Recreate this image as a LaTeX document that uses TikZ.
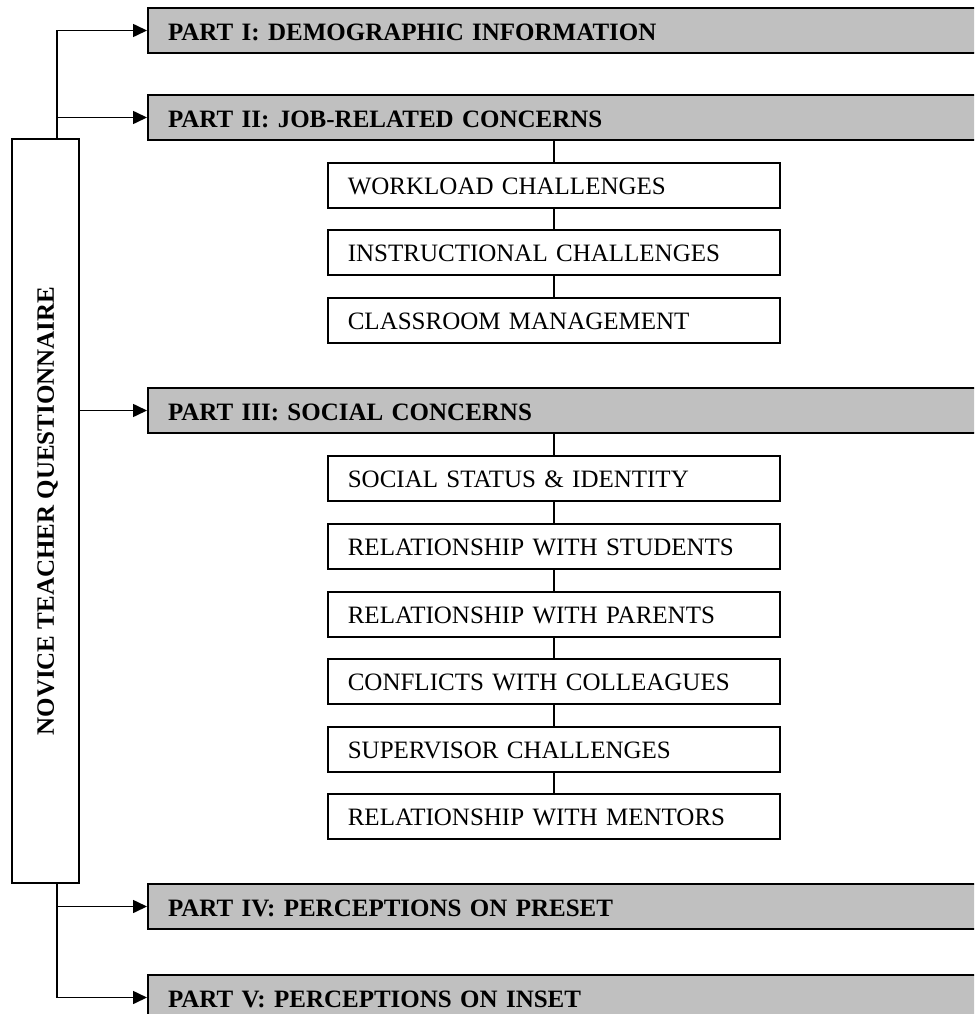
\documentclass[tikz,border=0pt]{standalone}
\usepackage{fontspec}
\setmainfont{Liberation Serif}
\usetikzlibrary{arrows.meta}
\definecolor{partgray}{HTML}{C0C0C0}
\begin{document}
\begin{tikzpicture}[x=1pt,y=-1pt,
  txt/.style={font=\fontsize{25pt}{30pt}\selectfont},
  partbox/.style={txt, draw, line width=2pt, fill=partgray, anchor=north west,
    minimum height=45pt, text width=800pt, inner xsep=20pt, inner ysep=0pt,
    align=left, text height=20pt, text depth=0pt, font=\fontsize{25pt}{30pt}\selectfont\bfseries},
  itembox/.style={txt, draw, line width=1.6pt, fill=white, anchor=north west,
    minimum height=45pt, text width=412pt, inner xsep=20pt, inner ysep=0pt,
    align=left, text height=19pt, text depth=0pt},
  link/.style={line width=1.6pt},
  arr/.style={line width=1.6pt, -{Triangle[length=14pt,width=13pt]}}
]
\useasboundingbox (0,0) rectangle (974,1014);
\clip (0,0) rectangle (974,1014);

% questionnaire box with vertical title
\node[draw, line width=1.6pt, minimum width=67pt, minimum height=744pt, inner sep=0pt,
  font=\fontsize{25pt}{30pt}\selectfont\bfseries] (main) at (45.5,511)
  {\rotatebox{90}{\raisebox{0pt}[\height][0pt]{NOVICE TEACHER QUESTIONNAIRE}}};

% the five parts
\node[partbox] (p1) at (147,7)   {PART I: DEMOGRAPHIC INFORMATION};
\node[partbox] (p2) at (147,94)  {PART II: JOB-RELATED CONCERNS};
\node[partbox] (p3) at (147,387) {PART III: SOCIAL CONCERNS};
\node[partbox] (p4) at (147,883) {PART IV: PERCEPTIONS ON PRESET};
\node[partbox] (p5) at (147,974) {PART V: PERCEPTIONS ON INSET};

% job-related items
\node[itembox] (a1) at (327,162) {WORKLOAD CHALLENGES};
\node[itembox] (a2) at (327,229) {INSTRUCTIONAL CHALLENGES};
\node[itembox] (a3) at (327,297) {CLASSROOM MANAGEMENT};

% social items
\node[itembox] (b1) at (327,455) {SOCIAL STATUS \& IDENTITY};
\node[itembox] (b2) at (327,523) {RELATIONSHIP WITH STUDENTS};
\node[itembox] (b3) at (327,591) {RELATIONSHIP WITH PARENTS};
\node[itembox] (b4) at (327,658) {CONFLICTS WITH COLLEAGUES};
\node[itembox] (b5) at (327,726) {SUPERVISOR CHALLENGES};
\node[itembox] (b6) at (327,793) {RELATIONSHIP WITH MENTORS};

% trunk points on the questionnaire box
\coordinate (tt) at ([xshift=11.5pt]main.north);
\coordinate (tb) at ([xshift=11.5pt]main.south);

% arrows to the parts
\draw[arr] (tt) |- (p1.west);
\draw[arr] (tt |- p2.west) -- (p2.west);
\draw[arr] (p3.west -| main.east) -- (p3.west);
\draw[arr] (tb) |- (p5.west);
\draw[arr] (tb |- p4.west) -- (p4.west);

% item chains
\draw[link] (a1.north |- p2.south) -- (a1.north);
\draw[link] (a1.south) -- (a2.north);
\draw[link] (a2.south) -- (a3.north);
\draw[link] (b1.north |- p3.south) -- (b1.north);
\draw[link] (b1.south) -- (b2.north);
\draw[link] (b2.south) -- (b3.north);
\draw[link] (b3.south) -- (b4.north);
\draw[link] (b4.south) -- (b5.north);
\draw[link] (b5.south) -- (b6.north);
\end{tikzpicture}
\end{document}
